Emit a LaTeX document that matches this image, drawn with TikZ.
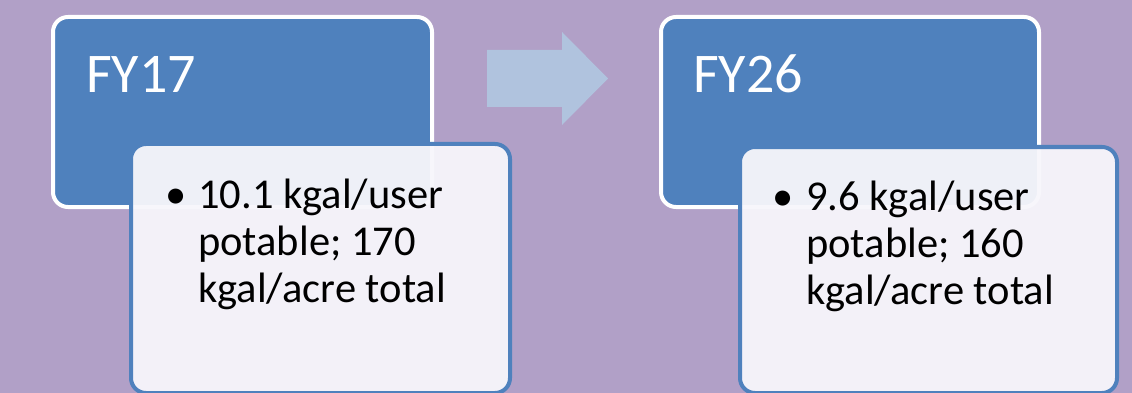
\documentclass[tikz,border=0pt]{standalone}
\usepackage{fontspec}
\setmainfont{Carlito}
\definecolor{bgc}{HTML}{B1A0C7}
\definecolor{boxblue}{HTML}{4F81BD}
\definecolor{boxlight}{HTML}{F7F6FB}
\definecolor{arrowc}{HTML}{B0C3DE}
\tikzset{
  topbox/.style={draw=white, line width=4pt, fill=boxblue, rounded corners=15pt, anchor=north west, inner sep=0pt},
  subbox/.style={draw=boxblue, line width=4pt, fill=boxlight, fill opacity=0.95, draw opacity=1, rounded corners=15pt, anchor=north west, inner sep=0pt},
  title/.style={anchor=base west, text=white, font=\fontsize{56}{60}\selectfont, inner sep=0pt},
  bodytxt/.style={anchor=base west, text=black, align=left, font=\fontsize{42.5}{47}\selectfont, inner sep=0pt},
  bul/.style={anchor=base west, text=black, font=\fontsize{42.5}{47}\selectfont, inner sep=0pt}
}
\begin{document}
\begin{tikzpicture}[x=1pt,y=-1pt]
\fill[bgc] (0,0) rectangle (1132,393);
\useasboundingbox (0,0) rectangle (1132,393);
\clip (0,0) rectangle (1132,393);
% left pair
\node[topbox, minimum width=379pt, minimum height=190pt] (t1) at (51,15) {};
\node[subbox, minimum width=379pt, minimum height=249pt] (s1) at (129,142) {};
% right pair
\node[topbox, minimum width=378pt, minimum height=190pt] (t2) at (659,15) {};
\node[subbox, minimum width=377pt, minimum height=246pt] (s2) at (738,145) {};
% arrow
\fill[arrowc] (487,50) -- (562,50) -- (562,32) -- (608,78.5) -- (562,125) -- (562,107) -- (487,107) -- cycle;
% texts
\node[title] (l1) at (86,93) {FY17};
\node[title] (l2) at (693,93) {FY26};
\node[bul] (b1) at (165,208) {•};
\node[bodytxt] (x1) at (198,302) {10.1 kgal/user\\potable; 170\\kgal/acre total};
\node[bul] (b2) at (772,210) {•};
\node[bodytxt] (x2) at (806,304) {9.6 kgal/user\\potable; 160\\kgal/acre total};
\end{tikzpicture}
\end{document}
